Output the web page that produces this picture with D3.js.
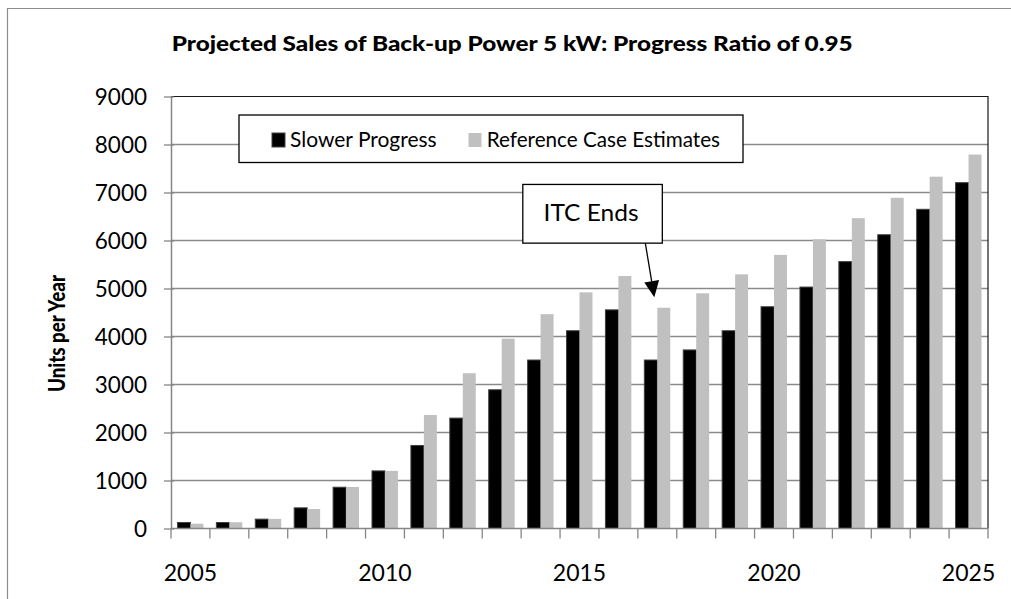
<!DOCTYPE html>
<html>
<head>
<meta charset="utf-8">
<script src="https://cdn.jsdelivr.net/npm/d3@7"></script>
<style>
  html, body { margin: 0; padding: 0; background: #fff; }
  svg { display: block; font-family: Lato, "Open Sans", sans-serif; }
</style>
</head>
<body>
<svg id="chart" width="1011" height="599"></svg>
<script>
// Projected yearly sales, 5 kW back-up power units
const years = ["2005","2006","2007","2008","2009","2010","2011","2012","2013","2014","2015",
               "2016","2017","2018","2019","2020","2021","2022","2023","2024","2025"];
const slowerProgress = [125,125,195,430,860,1200,1730,2300,2890,3510,4120,
                        4555,3510,3720,4120,4620,5030,5560,6120,6650,7205];
const referenceCase  = [100,130,200,405,865,1200,2365,3235,3955,4465,4920,
                        5260,4600,4900,5295,5700,6025,6465,6890,7330,7790];
const seriesNames  = ["Slower Progress", "Reference Case Estimates"];
const seriesColors = ["#000000", "#c0c0c0"];
const yTicks = [0,1000,2000,3000,4000,5000,6000,7000,8000,9000];
const xTickLabels = ["2005","2010","2015","2020","2025"];
const titleText = "Projected Sales of Back-up Power 5 kW: Progress Ratio of 0.95";
const yTitleText = "Units per Year";
const noteText = "ITC Ends";
const noteYear = "2017";
const noteValue = 4820;

const FONT = "Lato, 'Open Sans', sans-serif";
const svg = d3.select("#chart");
svg.append("rect").attr("width", 1011).attr("height", 599).attr("fill", "#fff");

const plot = { left: 171, right: 988, top: 96.5, bottom: 528.5 };

const x = d3.scaleBand().domain(years)
  .range([plot.left, plot.right]).paddingInner(1/3).paddingOuter(1/6);
const xs = d3.scaleBand().domain(seriesNames).range([0, x.bandwidth()]);
const y = d3.scaleLinear().domain([0, 9000]).range([plot.bottom, plot.top]);

// chart area frame (top and left edges)
svg.append("path")
  .attr("d", "M7.5,599V8.5H1011")
  .attr("fill", "none").attr("stroke", "#8c8c8c").attr("stroke-width", 1.2);

// horizontal gridlines
svg.append("g").selectAll("line")
  .data(yTicks.filter(v => v > 0 && v < 9000))
  .join("line")
  .attr("x1", plot.left).attr("x2", plot.right)
  .attr("y1", d => y(d)).attr("y2", d => y(d))
  .attr("stroke", "#8a8a8a").attr("stroke-width", 1.3);

// plot area border (top & right)
svg.append("path")
  .attr("d", `M${plot.left},${plot.top}H${plot.right}V${plot.bottom}`)
  .attr("fill", "none").attr("stroke", "#1a1a1a").attr("stroke-width", 1.2);

// bars
const rows = years.map((yr, i) => ({ year: yr, values: [slowerProgress[i], referenceCase[i]] }));
const groups = svg.append("g").selectAll("g")
  .data(rows).join("g")
  .attr("transform", d => `translate(${x(d.year)},0)`);
groups.selectAll("rect")
  .data(d => d.values.map((v, j) => ({ name: seriesNames[j], value: v, color: seriesColors[j] })))
  .join("rect")
  .attr("x", d => xs(d.name))
  .attr("width", xs.bandwidth())
  .attr("y", d => y(d.value))
  .attr("height", d => y(0) - y(d.value))
  .attr("fill", d => d.color)
  .attr("stroke", d => d.name === seriesNames[0] ? "#404040" : "none")
  .attr("stroke-width", 1);

// y axis
const yAxis = svg.append("g")
  .attr("transform", `translate(${plot.left},0)`)
  .call(d3.axisLeft(y).tickValues(yTicks).tickFormat(d3.format("d"))
    .tickSize(7).tickPadding(17).tickSizeOuter(0));
yAxis.attr("font-family", FONT).attr("font-size", 22.5);
yAxis.select(".domain").attr("stroke", "#868686").attr("stroke-width", 1.5);
yAxis.selectAll(".tick line").attr("x1", 3).attr("stroke", "#868686").attr("stroke-width", 1.3);
yAxis.selectAll(".tick text").attr("fill", "#000").attr("dy", "0.35em");

// x axis line, category boundary ticks and labels
const xAxis = svg.append("g");
xAxis.append("line")
  .attr("x1", plot.left).attr("x2", plot.right)
  .attr("y1", y(0)).attr("y2", y(0))
  .attr("stroke", "#868686").attr("stroke-width", 1.5);
const edgeOffset = (x.step() - x.bandwidth()) / 2;
const boundaries = years.map(yr => x(yr) - edgeOffset).concat([x(years[years.length - 1]) + x.bandwidth() + edgeOffset]);
xAxis.selectAll("line.tick")
  .data(boundaries).join("line").attr("class", "tick")
  .attr("x1", d => d).attr("x2", d => d)
  .attr("y1", y(0)).attr("y2", y(0) + 10)
  .attr("stroke", "#868686").attr("stroke-width", 1.3);
xAxis.selectAll("text")
  .data(xTickLabels).join("text")
  .attr("x", d => x(d) + x.bandwidth() / 2)
  .attr("y", y(0) + 52.5)
  .attr("text-anchor", "middle")
  .attr("font-family", FONT).attr("font-size", 23).attr("fill", "#000")
  .text(d => d);

// title
svg.append("text")
  .attr("x", 171.7).attr("y", 50.5)
  .attr("font-family", FONT).attr("font-size", 20).attr("font-weight", 900)
  .attr("textLength", 681).attr("lengthAdjust", "spacingAndGlyphs")
  .text(titleText);

// y axis title
svg.append("text")
  .attr("transform", "translate(65,333.5) rotate(-90)")
  .attr("text-anchor", "middle")
  .attr("font-family", FONT).attr("font-size", 22).attr("font-weight", 900)
  .attr("textLength", 117).attr("lengthAdjust", "spacingAndGlyphs")
  .text(yTitleText);

// legend
const legend = svg.append("g");
legend.append("rect")
  .attr("x", 239).attr("y", 115).attr("width", 504).attr("height", 47.5)
  .attr("fill", "#fff").attr("stroke", "#000").attr("stroke-width", 1.3);
const legendItems = [
  { name: seriesNames[0], color: seriesColors[0], sx: 272, tx: 290, len: 146.7 },
  { name: seriesNames[1], color: seriesColors[1], sx: 468.5, tx: 486.7, len: 233.3 }
];
legend.selectAll("rect.key").data(legendItems).join("rect").attr("class", "key")
  .attr("x", d => d.sx).attr("y", 133).attr("width", 13).attr("height", 14)
  .attr("fill", d => d.color)
  .attr("stroke", (d, i) => i === 0 ? "#404040" : "none").attr("stroke-width", 1);
legend.selectAll("text").data(legendItems).join("text")
  .attr("x", d => d.tx).attr("y", 147.3)
  .attr("font-family", FONT).attr("font-size", 20.5).attr("fill", "#000")
  .attr("textLength", d => d.len).attr("lengthAdjust", "spacingAndGlyphs")
  .text(d => d.name);

// "ITC Ends" callout with arrow pointing at the drop in sales
const tipX = x(noteYear) + x.bandwidth() / 2 - 3;
const tipY = y(noteValue);
const box = { left: tipX - 131.5, right: tipX + 8, top: tipY - 112.7, bottom: tipY - 54 };
const note = svg.append("g");
note.append("rect")
  .attr("x", box.left).attr("y", box.top)
  .attr("width", box.right - box.left).attr("height", box.bottom - box.top)
  .attr("fill", "#fff").attr("stroke", "#000").attr("stroke-width", 1.3);
note.append("text")
  .attr("x", (box.left + box.right) / 2 - 1.5).attr("y", box.top + 36.7)
  .attr("text-anchor", "middle")
  .attr("font-family", FONT).attr("font-size", 24).attr("fill", "#000")
  .attr("textLength", 95).attr("lengthAdjust", "spacingAndGlyphs")
  .text(noteText);
const sx0 = tipX - 9, sy0 = box.bottom;
const dx = tipX - sx0, dy = tipY - sy0, len = Math.hypot(dx, dy);
const ux = dx / len, uy = dy / len;
const headLen = 16, headHalf = 7.5;
const bx = tipX - ux * headLen, by = tipY - uy * headLen;
note.append("line")
  .attr("x1", sx0).attr("y1", sy0).attr("x2", bx).attr("y2", by)
  .attr("stroke", "#000").attr("stroke-width", 1.3);
note.append("path")
  .attr("d", `M${tipX},${tipY}L${bx - uy * headHalf},${by + ux * headHalf}L${bx + uy * headHalf},${by - ux * headHalf}Z`)
  .attr("fill", "#000");
</script>
</body>
</html>
